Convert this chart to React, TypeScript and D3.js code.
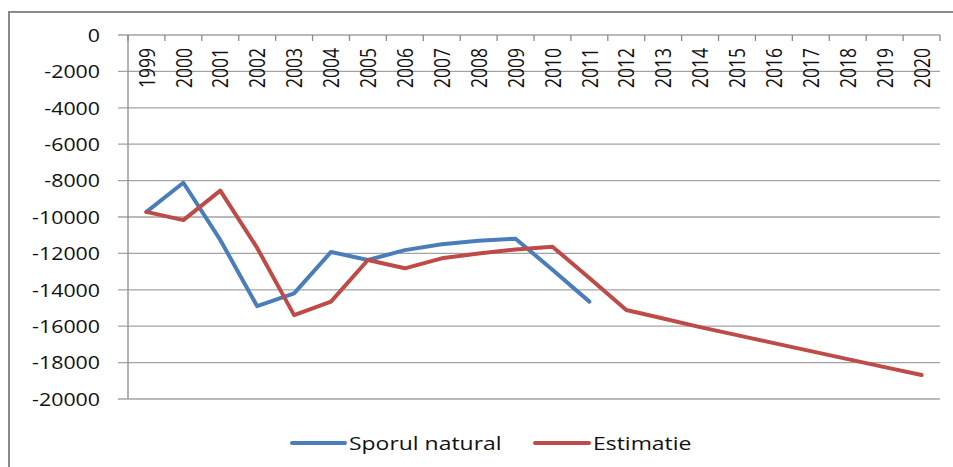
import { line, range, scaleBand, scaleLinear } from 'd3';

const years = [
  '1999', '2000', '2001', '2002', '2003', '2004', '2005', '2006', '2007', '2008', '2009',
  '2010', '2011', '2012', '2013', '2014', '2015', '2016', '2017', '2018', '2019', '2020',
];

// Sporul natural (recorded), 1999-2011
const sporulNatural = [
  -9720, -8120, -11260, -14900, -14200, -11920, -12360, -11820, -11500, -11300, -11190, -12900, -14650,
];

// Estimatie, 1999-2020
const estimatie = [
  -9720, -10170, -8550, -11700, -15390, -14650, -12360, -12820, -12270, -12000, -11780, -11630, -13350,
  -15110, -15580, -16050, -16490, -16930, -17370, -17810, -18250, -18680,
];

const yTicks = range(0, -20001, -2000);

const seriesMeta = [
  { name: 'Sporul natural', color: '#4a7ebb', values: sporulNatural },
  { name: 'Estimatie', color: '#be4b48', values: estimatie },
];

const FONT = '"Open Sans", "Noto Sans", sans-serif';
const STRETCH = 1.22;

export default function App() {
  const width = 953;
  const height = 467;
  const plot = { left: 128, right: 940, top: 35, bottom: 399 };

  const x = scaleBand<string>().domain(years).range([plot.left, plot.right]).padding(0);
  const y = scaleLinear().domain([0, -20000]).range([plot.top, plot.bottom]);
  const cx = (i: number) => (x(years[i]) ?? 0) + x.bandwidth() / 2;

  const path = line<number>()
    .x((_, i) => cx(i))
    .y((d) => y(d));

  const legendItems = [
    { ...seriesMeta[0], x0: 292, x1: 345, tx: 349 },
    { ...seriesMeta[1], x0: 535, x1: 589, tx: 593 },
  ];

  return (
    <svg
      width={width}
      height={height}
      style={{ position: 'absolute', left: 0, top: 0, background: '#fff' }}
      fontFamily={FONT}
    >
      {/* chart frame */}
      <path d={`M9,${height} L9,12 L${width},12`} fill="none" stroke="#8a8a8a" strokeWidth={2} />

      {/* horizontal gridlines + left ticks */}
      {yTicks.map((t) => (
        <line key={t} x1={plot.left - 10} x2={plot.right} y1={y(t)} y2={y(t)} stroke="#a3a3a3" strokeWidth={1.3} />
      ))}
      {yTicks.map((t) => (
        <text
          key={`l${t}`}
          transform={`translate(100,${y(t)}) scale(${STRETCH},1)`}
          textAnchor="end"
          dominantBaseline="central"
          fontSize={17.5}
          fill="#111"
        >
          {t}
        </text>
      ))}

      {/* category axis at value 0 */}
      <line x1={plot.left} x2={plot.left} y1={plot.top} y2={plot.bottom} stroke="#8a8a8a" strokeWidth={1.3} />
      {years.concat(['end']).map((yr, i) => {
        const px = plot.left + i * x.bandwidth();
        return <line key={`t${yr}`} x1={px} x2={px} y1={plot.top} y2={plot.top + 6} stroke="#8a8a8a" strokeWidth={1.3} />;
      })}
      {years.map((yr, i) => (
        <text
          key={`x${yr}`}
          transform={`translate(${cx(i)},48) scale(${STRETCH},1) rotate(-90)`}
          textAnchor="end"
          dominantBaseline="central"
          fontSize={17.5}
          fill="#111"
        >
          {yr}
        </text>
      ))}

      {/* series */}
      {seriesMeta.map((s) => (
        <path
          key={s.name}
          d={path(s.values) ?? ''}
          fill="none"
          stroke={s.color}
          strokeWidth={4}
          strokeLinejoin="round"
          strokeLinecap="round"
        />
      ))}

      {/* legend */}
      {legendItems.map((l) => (
        <g key={l.name}>
          <line x1={l.x0} x2={l.x1} y1={443} y2={443} stroke={l.color} strokeWidth={4} strokeLinecap="round" />
          <text
            transform={`translate(${l.tx},443) scale(${STRETCH},1)`}
            dominantBaseline="central"
            fontSize={18.8}
            fill="#111"
          >
            {l.name}
          </text>
        </g>
      ))}
    </svg>
  );
}
